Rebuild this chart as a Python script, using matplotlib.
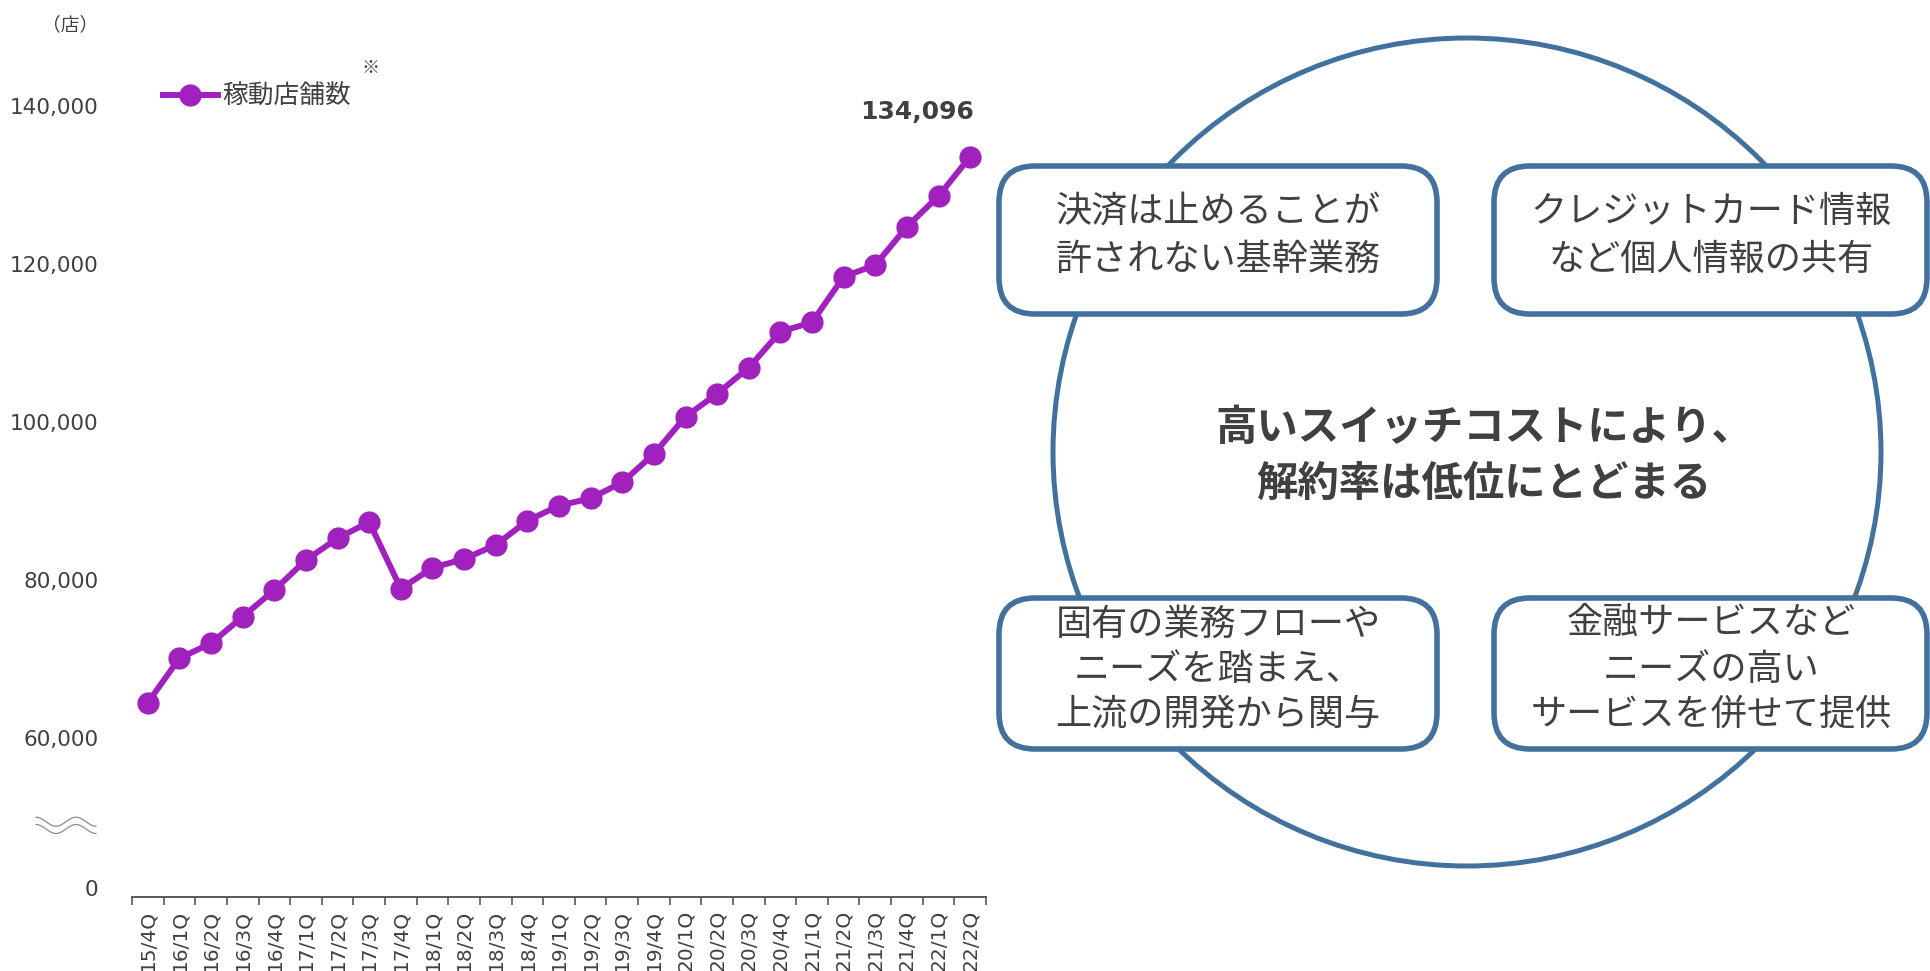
import numpy as np
import matplotlib
matplotlib.use("Agg")
import matplotlib.pyplot as plt
from matplotlib.patches import Circle, FancyBboxPatch
from matplotlib.lines import Line2D
import matplotlib.transforms as mtrans

# ---------------- data ----------------
quarters = ["15/4Q", "16/1Q", "16/2Q", "16/3Q", "16/4Q", "17/1Q", "17/2Q", "17/3Q",
            "17/4Q", "18/1Q", "18/2Q", "18/3Q", "18/4Q", "19/1Q", "19/2Q", "19/3Q",
            "19/4Q", "20/1Q", "20/2Q", "20/3Q", "20/4Q", "21/1Q", "21/2Q", "21/3Q",
            "21/4Q", "22/1Q", "22/2Q"]
stores = [64980, 70600, 72500, 75860, 79240, 83040, 85790, 87850,
          79400, 82050, 83170, 84940, 88010, 89910, 90850, 92870,
          96460, 101180, 104100, 107380, 111940, 113130, 118900, 120380,
          125230, 129110, 134096]
y_ticks = [0, 60000, 80000, 100000, 120000, 140000]
series_name = "稼動店舗数"
latest_label = "134,096"
unit_label = "（店）"
note_mark = "※"
center_lines = ["高いスイッチコストにより、", "解約率は低位にとどまる"]
box_tl = ["決済は止めることが", "許されない基幹業務"]
box_tr = ["クレジットカード情報", "など個人情報の共有"]
box_bl = ["固有の業務フローや", "ニーズを踏まえ、", "上流の開発から関与"]
box_br = ["金融サービスなど", "ニーズの高い", "サービスを併せて提供"]

# ---------------- style ----------------
PURPLE = "#A021BE"
BLUE = "#41719C"
TXT = "#404040"
AXC = "#595959"
JP = ["Noto Sans CJK JP", "DejaVu Sans"]
plt.rcParams["font.family"] = ["DejaVu Sans", "Noto Sans CJK JP"]

W, H = 1931, 971
fig = plt.figure(figsize=(W / 100, H / 100), dpi=100)

# broken y scale: compress below 60,000
BREAK = 60000.0
K = 0.31646


def fwd(v):
    v = np.asarray(v, dtype=float)
    return np.where(v >= BREAK, v, BREAK - (BREAK - v) * K)


def inv(f):
    f = np.asarray(f, dtype=float)
    return np.where(f >= BREAK, f, BREAK - (BREAK - f) / K)


ax = fig.add_axes([132 / W, 1 - 897 / H, (986 - 132) / W, (897 - 60) / H])
ax.set_yscale("function", functions=(fwd, inv))
ax.set_xlim(-0.5, len(quarters) - 0.5)
ax.set_ylim(-2000, 146330)

x = np.arange(len(quarters))
ax.plot(x, stores, color=PURPLE, lw=4.3, marker="o", ms=15,
        label=series_name, clip_on=False, zorder=3)

for s in ("top", "right", "left"):
    ax.spines[s].set_visible(False)
ax.spines["bottom"].set_color(AXC)
ax.spines["bottom"].set_linewidth(1.4)

ax.set_yticks(y_ticks)
ax.set_yticklabels([f"{v:,}" for v in y_ticks])
ax.tick_params(axis="y", length=0, pad=24, labelsize=15.5, labelcolor=TXT)
off = mtrans.ScaledTranslation(0, 4 / 100, fig.dpi_scale_trans)
for lab in ax.get_yticklabels():
    lab.set_transform(lab.get_transform() + off)

ax.set_xticks(np.arange(-0.5, len(quarters), 1))
ax.set_xticklabels([])
ax.set_xticks(x, labels=quarters, minor=True, rotation=90)
ax.tick_params(axis="x", which="major", direction="out", length=5.8, width=1.2, color=AXC)
ax.tick_params(axis="x", which="minor", length=0, pad=9.5, labelsize=14.5, labelcolor=TXT)

ax.annotate(latest_label, xy=(x[-1], stores[-1]), xytext=(-53, 45),
            textcoords="offset pixels", ha="center", va="center",
            fontsize=18, fontweight="bold", color=TXT)

leg = ax.legend(loc="center left", bbox_to_anchor=(163 / W, 1 - 97 / H),
                bbox_transform=fig.transFigure, frameon=False, borderpad=0,
                borderaxespad=0, handlelength=2.14, handletextpad=0.15,
                prop={"family": JP, "size": 18.5})
for t in leg.get_texts():
    t.set_color(TXT)

fig.text(70 / W, 1 - 25 / H, unit_label, ha="center", va="center",
         fontsize=13.5, color=TXT, family=JP)
fig.text(371 / W, 1 - 68 / H, note_mark, ha="center", va="center",
         fontsize=13, color=TXT, family=JP)

# axis break symbol
t = np.linspace(0, 1, 100)
xs = 36 + 60 * t
for yc in (821.7, 829.0):
    ys = yc - 4.5 * np.cos(3 * np.pi * t)
    fig.add_artist(Line2D(xs / W, 1 - ys / H, color="#8c8c8c", lw=0.9))

# ---------------- right-hand diagram ----------------
ov = fig.add_axes([0, 0, 1, 1])
ov.set_xlim(0, W)
ov.set_ylim(H, 0)
ov.axis("off")

ov.add_patch(Circle((1467, 452), 414, fill=False, ec=BLUE, lw=3.6, zorder=1))

boxes = [((999, 166, 438, 148), box_tl, 1218, [212, 260]),
         ((1494, 166, 433, 148), box_tr, 1711, [212, 260]),
         ((999, 598, 438, 151), box_bl, 1218, [625, 670, 715]),
         ((1494, 598, 433, 151), box_br, 1711, [623, 670, 715])]
for (bx, by, bw, bh), lines, cx, ys in boxes:
    ov.add_patch(FancyBboxPatch((bx, by), bw, bh,
                                boxstyle="round,pad=0,rounding_size=36",
                                fc="white", ec=BLUE, lw=4.0, zorder=2))
    for line, yy in zip(lines, ys):
        ov.text(cx, yy, line, ha="center", va="center", fontsize=26,
                color=TXT, family=JP, zorder=3)

for line, yy in zip(center_lines, [428, 484]):
    ov.text(1484, yy, line, ha="center", va="center", fontsize=29.8,
            fontweight="bold", color=TXT, family=JP, zorder=3)

fig.savefig("out.png", dpi=100, facecolor="white")
